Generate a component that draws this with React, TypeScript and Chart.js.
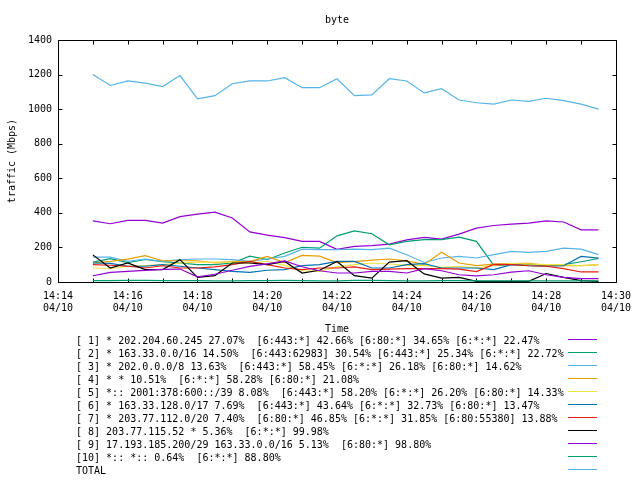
import React, { useEffect, useRef } from 'react';
import { Chart, registerables } from 'chart.js';

Chart.register(...registerables);

const TITLE = 'byte';
const X_TITLE = 'Time';
const Y_TITLE = 'traffic (Mbps)';
const DATE_LABEL = '04/10';

const TIMES = [
  '14:15:00', '14:15:30', '14:16:00', '14:16:30', '14:17:00', '14:17:30',
  '14:18:00', '14:18:30', '14:19:00', '14:19:30', '14:20:00', '14:20:30',
  '14:21:00', '14:21:30', '14:22:00', '14:22:30', '14:23:00', '14:23:30',
  '14:24:00', '14:24:30', '14:25:00', '14:25:30', '14:26:00', '14:26:30',
  '14:27:00', '14:27:30', '14:28:00', '14:28:30', '14:29:00', '14:29:30',
];

const X_TICK_LABELS = ['14:14', '14:16', '14:18', '14:20', '14:22', '14:24', '14:26', '14:28', '14:30'];
const Y_TICKS = [0, 200, 400, 600, 800, 1000, 1200, 1400];

const S1 = [354, 337, 357, 357, 341, 378, 393, 404, 370, 290, 271, 257, 235, 235, 189, 206, 211, 219, 244, 258, 248, 277, 312, 327, 335, 341, 354, 347, 302, 302];
const S2 = [115, 135, 112, 130, 118, 110, 100, 100, 110, 150, 129, 168, 201, 196, 267, 296, 279, 215, 235, 245, 245, 260, 235, 95, 102, 102, 93, 100, 117, 136];
const S3 = [144, 144, 119, 133, 119, 129, 133, 133, 129, 119, 133, 148, 190, 187, 187, 190, 187, 196, 158, 113, 139, 148, 139, 158, 177, 171, 177, 196, 190, 158];
const S4 = [110, 119, 132, 152, 123, 123, 123, 110, 119, 118, 148, 112, 154, 150, 112, 118, 127, 133, 122, 102, 172, 110, 95, 103, 106, 108, 96, 95, 95, 100];
const S5 = [81, 78, 90, 95, 100, 110, 115, 115, 115, 110, 120, 96, 65, 62, 88, 100, 110, 104, 96, 96, 85, 91, 81, 96, 106, 104, 100, 100, 94, 100];
const S6 = [110, 108, 91, 91, 100, 91, 81, 72, 62, 56, 68, 72, 95, 100, 119, 119, 81, 81, 100, 106, 81, 81, 81, 72, 100, 94, 91, 94, 148, 138];
const S7 = [100, 97, 91, 81, 94, 81, 81, 87, 100, 119, 100, 81, 72, 81, 81, 87, 72, 75, 77, 77, 77, 75, 60, 102, 100, 94, 91, 77, 58, 58];
const S8 = [157, 81, 110, 72, 72, 129, 27, 37, 110, 110, 100, 119, 52, 68, 119, 37, 22, 115, 123, 47, 22, 27, 4, 4, 4, 4, 49, 27, 8, 4];
const S9 = [36, 56, 62, 67, 73, 75, 30, 45, 68, 90, 105, 122, 88, 65, 52, 52, 61, 61, 52, 77, 65, 42, 36, 42, 57, 65, 42, 27, 19, 19];
const S10 = [8, 8, 9, 9, 8, 8, 8, 7, 7, 8, 8, 9, 8, 7, 7, 9, 9, 8, 7, 7, 8, 8, 7, 7, 7, 6, 6, 7, 7, 7];
const TOTAL = [1200, 1137, 1163, 1151, 1131, 1194, 1059, 1078, 1147, 1163, 1163, 1182, 1124, 1124, 1176, 1078, 1082, 1176, 1163, 1094, 1118, 1053, 1037, 1029, 1053, 1045, 1063, 1049, 1029, 1000];

const SERIES = [S1, S2, S3, S4, S5, S6, S7, S8, S9, S10, TOTAL];

const SERIES_LABELS = [
  '[ 1] * 202.204.60.245 27.07%  [6:443:*] 42.66% [6:80:*] 34.65% [6:*:*] 22.47%',
  '[ 2] * 163.33.0.0/16 14.50%  [6:443:62983] 30.54% [6:443:*] 25.34% [6:*:*] 22.72%',
  '[ 3] * 202.0.0.0/8 13.63%  [6:443:*] 58.45% [6:*:*] 26.18% [6:80:*] 14.62%',
  '[ 4] * * 10.51%  [6:*:*] 58.28% [6:80:*] 21.08%',
  '[ 5] *:: 2001:378:600::/39 8.08%  [6:443:*] 58.20% [6:*:*] 26.20% [6:80:*] 14.33%',
  '[ 6] * 163.33.128.0/17 7.69%  [6:443:*] 43.64% [6:*:*] 32.73% [6:80:*] 13.47%',
  '[ 7] * 203.77.112.0/20 7.40%  [6:80:*] 46.85% [6:*:*] 31.85% [6:80:55380] 13.88%',
  '[ 8] 203.77.115.52 * 5.36%  [6:*:*] 99.98%',
  '[ 9] 17.193.185.200/29 163.33.0.0/16 5.13%  [6:80:*] 98.80%',
  '[10] *:: *:: 0.64%  [6:*:*] 88.80%',
  'TOTAL',
];

const COLORS = [
  '#9400d3', '#009e73', '#56b4e9', '#e69f00', '#f0e442', '#0072b2',
  '#e51e10', '#000000', '#9400d3', '#009e73', '#56b4e9',
];

const FONT = '"DejaVu Sans Mono", "Liberation Mono", monospace';

const toMin = (t: string) => {
  const p = t.split(':').map(Number);
  return p[0] * 60 + p[1] + (p[2] || 0) / 60;
};

const decor = {
  id: 'decor',
  beforeDatasetsDraw(chart: any) {
    const { ctx, chartArea: a, scales } = chart;
    const xs = scales.x;
    const ys = scales.y;
    ctx.save();
    ctx.strokeStyle = '#000';
    ctx.lineWidth = 1;
    const L = Math.round(a.left) + 0.5;
    const R = Math.round(a.right) + 0.5;
    const T = Math.round(a.top) + 0.5;
    const B = Math.round(a.bottom) + 0.5;
    ctx.beginPath();
    ctx.rect(L, T, R - L, B - T);
    for (const v of Y_TICKS) {
      const py = Math.round(ys.getPixelForValue(v)) + 0.5;
      ctx.moveTo(L, py); ctx.lineTo(L + 4, py);
      ctx.moveTo(R, py); ctx.lineTo(R - 4, py);
    }
    const x0 = toMin(X_TICK_LABELS[0]);
    const x1 = toMin(X_TICK_LABELS[X_TICK_LABELS.length - 1]);
    for (let m = x0; m <= x1; m += 1) {
      const px = Math.round(xs.getPixelForValue(m)) + 0.5;
      ctx.moveTo(px, B); ctx.lineTo(px, B - 4);
      ctx.moveTo(px, T); ctx.lineTo(px, T + 4);
    }
    ctx.stroke();
    ctx.restore();
  },
  afterDraw(chart: any) {
    const { ctx, chartArea: a } = chart;
    ctx.save();
    ctx.fillStyle = '#000';
    ctx.font = '10px ' + FONT;
    const cx = (a.left + a.right) / 2;
    ctx.textAlign = 'center';
    ctx.textBaseline = 'alphabetic';
    ctx.fillText(TITLE, cx, 23);
    ctx.fillText(X_TITLE, cx, 332);
    ctx.save();
    ctx.translate(15, (a.top + a.bottom) / 2);
    ctx.rotate(-Math.PI / 2);
    ctx.fillText(Y_TITLE, 0, 0);
    ctx.restore();
    ctx.textAlign = 'left';
    SERIES_LABELS.forEach((lab, i) => {
      ctx.fillStyle = '#000';
      ctx.fillText(lab, 76, 344 + 13 * i);
      ctx.strokeStyle = COLORS[i];
      ctx.lineWidth = 1;
      ctx.beginPath();
      ctx.moveTo(568, 339.5 + 13 * i);
      ctx.lineTo(597, 339.5 + 13 * i);
      ctx.stroke();
    });
    ctx.restore();
  },
};

export default function App() {
  const ref = useRef<HTMLCanvasElement | null>(null);
  useEffect(() => {
    if (!ref.current) return;
    const datasets = SERIES.map((s, i) => ({
      label: SERIES_LABELS[i],
      data: s.map((v, j) => ({ x: toMin(TIMES[j]), y: v })),
      borderColor: COLORS[i],
      backgroundColor: COLORS[i],
      borderWidth: 1.2,
      pointRadius: 0,
      tension: 0,
      fill: false,
      order: SERIES.length - 1 - i,
    }));
    const chart = new Chart(ref.current, {
      type: 'line',
      data: { datasets },
      options: {
        animation: false,
        responsive: false,
        devicePixelRatio: 1,
        layout: { padding: { top: 40, right: 20, bottom: 0, left: 0 } },
        plugins: {
          legend: { display: false },
          title: { display: false },
          tooltip: { enabled: false },
        },
        scales: {
          x: {
            type: 'linear',
            min: toMin(X_TICK_LABELS[0]),
            max: toMin(X_TICK_LABELS[X_TICK_LABELS.length - 1]),
            grid: { display: false, drawTicks: false },
            border: { display: false },
            afterBuildTicks: (s: any) => {
              s.ticks = X_TICK_LABELS.map((l) => ({ value: toMin(l) }));
            },
            afterFit: (s: any) => { s.height = 198; },
            ticks: {
              autoSkip: false,
              maxRotation: 0,
              padding: 9,
              color: '#000',
              font: { family: FONT, size: 10, lineHeight: 1.15 },
              callback: (v: any) => {
                const l = X_TICK_LABELS.find((t) => Math.abs(toMin(t) - v) < 1e-6) || '';
                return [l, DATE_LABEL];
              },
            },
          },
          y: {
            type: 'linear',
            min: Y_TICKS[0],
            max: Y_TICKS[Y_TICKS.length - 1],
            grid: { display: false, drawTicks: false },
            border: { display: false },
            afterBuildTicks: (s: any) => {
              s.ticks = Y_TICKS.map((v) => ({ value: v }));
            },
            afterFit: (s: any) => { s.width = 58; },
            ticks: {
              padding: 6,
              color: '#000',
              font: { family: FONT, size: 10 },
              callback: (v: any) => String(v),
            },
          },
        },
      },
      plugins: [decor],
    });
    return () => chart.destroy();
  }, []);
  return (
    <div style={{ position: 'absolute', left: 0, top: 0, width: 640, height: 480, background: '#fff' }}>
      <canvas ref={ref} width={640} height={480} />
    </div>
  );
}
